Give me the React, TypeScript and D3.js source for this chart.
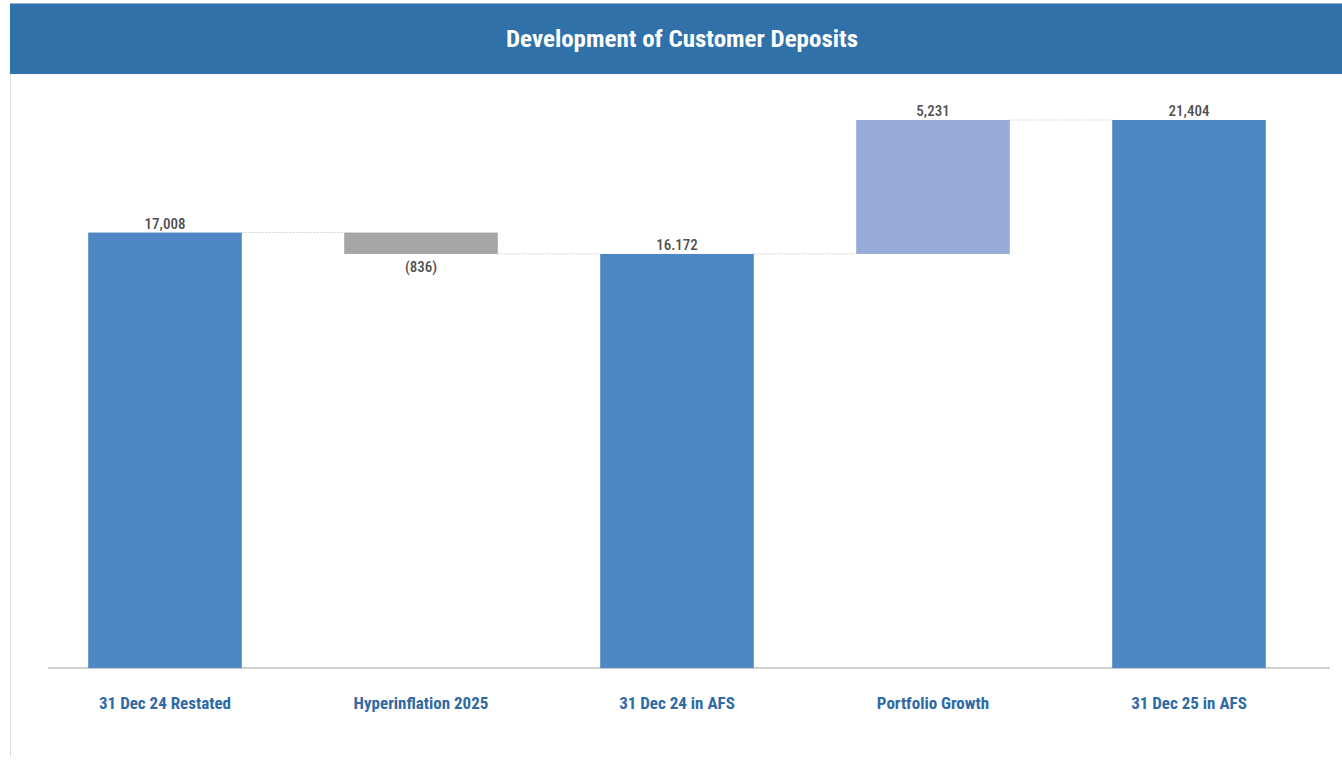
import React from 'react'
import * as d3 from 'd3'

const categories = ['31 Dec 24 Restated', 'Hyperinflation 2025', '31 Dec 24 in AFS', 'Portfolio Growth', '31 Dec 25 in AFS']
const values = [17008, -836, 16172, 5231, 21404]
const kinds = ['total', 'delta', 'total', 'delta', 'total']
const valueLabels = ['17,008', '(836)', '16.172', '5,231', '21,404']

const W = 1342
const H = 761

export default function App() {
  // running positions for the waterfall
  let running = 0
  const bars = values.map((v, i) => {
    let y0, y1
    if (kinds[i] === 'total') {
      y0 = 0
      y1 = v
      running = v
    } else {
      y0 = running
      y1 = running + v
      running = y1
    }
    return { name: categories[i], kind: kinds[i], v, lo: Math.min(y0, y1), hi: Math.max(y0, y1), end: y1, label: valueLabels[i] }
  })

  const x = d3.scaleBand().domain(categories).range([37, 1317]).paddingInner(0.4).paddingOuter(0.2)
  const y = d3.scaleLinear().domain([0, 21404]).range([668, 120])

  const color = (d) => d.kind === 'total' ? '#4f87c5' : d.v < 0 ? '#a6a6a6' : '#97aad8'

  const font = "'Roboto Condensed', 'Liberation Sans Narrow', Roboto, sans-serif"

  return (
    <svg width={W} height={H} style={{ position: 'absolute', left: 0, top: 0 }}>
      <rect x={0} y={0} width={W} height={H} fill="#fff" />
      <line x1={10.5} x2={10.5} y1={73} y2={757} stroke="#e0e0e0" />
      <rect x={10} y={3} width={W - 10} height={71} fill="#3071a9" />
      <line x1={10} x2={W} y1={3.5} y2={3.5} stroke="#8fb3d6" />
      <text x={682} y={47} textAnchor="middle" fill="#fff" fontFamily={font} fontWeight="bold" fontSize={23} style={{ fontStretch: 'condensed' }} textLength={352} lengthAdjust="spacingAndGlyphs">Development of Customer Deposits</text>

      <line x1={48} x2={1330} y1={668} y2={668} stroke="#cfcfcf" strokeWidth={2} />

      {bars.slice(0, -1).map((d, i) => {
        const next = bars[i + 1]
        const yy = y(d.end)
        return <line key={'c' + i} x1={x(d.name) + x.bandwidth()} x2={x(next.name)} y1={yy} y2={yy} stroke="#c8c8c8" strokeDasharray="1.5,1.5" strokeWidth={1} />
      })}

      {bars.map((d) => (
        <rect key={d.name} x={x(d.name)} y={y(d.hi)} width={x.bandwidth()} height={Math.max(1, y(d.lo) - y(d.hi))} fill={color(d)} />
      ))}

      {bars.map((d) => (
        <text key={'v' + d.name} x={x(d.name) + x.bandwidth() / 2} y={d.v < 0 ? y(d.lo) + 18 : y(d.hi) - 4}
          textAnchor="middle" fill="#505050" fontFamily={font} fontWeight={500} fontSize={15} style={{ fontStretch: 'condensed' }}>{d.label}</text>
      ))}

      {categories.map((c) => (
        <text key={'l' + c} x={x(c) + x.bandwidth() / 2} y={709} textAnchor="middle" fill="#2f6aa6"
          fontFamily={font} fontWeight="bold" fontSize={17} style={{ fontStretch: 'condensed' }}>{c}</text>
      ))}
    </svg>
  )
}
